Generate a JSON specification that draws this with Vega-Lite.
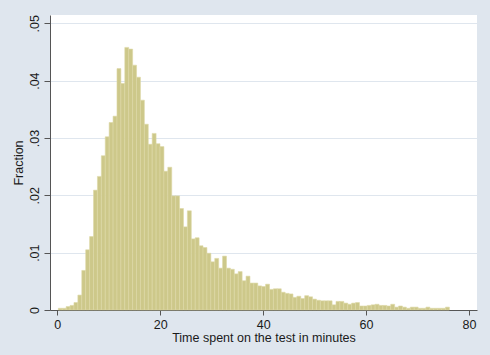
{
  "$schema": "https://vega.github.io/schema/vega-lite/v6.json",
  "width": 427,
  "height": 295,
  "autosize": {"type": "none"},
  "padding": {"left": 50, "top": 15, "right": 13, "bottom": 45},
  "background": "#dfe6ee",
  "config": {
    "view": {"fill": "white", "stroke": null},
    "font": "Liberation Sans",
    "axis": {
      "labelFont": "Liberation Sans",
      "titleFont": "Liberation Sans",
      "labelFontSize": 12.5,
      "titleFontSize": 12.5,
      "titleFontWeight": "normal",
      "labelColor": "#1a1a1a",
      "titleColor": "#1a1a1a",
      "domainColor": "#555555",
      "tickColor": "#555555",
      "domainWidth": 1,
      "tickWidth": 1
    }
  },
  "data": {
    "values": [
      {"start": 0.10, "end": 0.86, "fraction": 0.0003},
      {"start": 0.86, "end": 1.62, "fraction": 0.0003},
      {"start": 1.62, "end": 2.38, "fraction": 0.0006},
      {"start": 2.38, "end": 3.14, "fraction": 0.0008},
      {"start": 3.14, "end": 3.90, "fraction": 0.0013},
      {"start": 3.90, "end": 4.66, "fraction": 0.0026},
      {"start": 4.66, "end": 5.42, "fraction": 0.0069},
      {"start": 5.42, "end": 6.18, "fraction": 0.0105},
      {"start": 6.18, "end": 6.94, "fraction": 0.0128},
      {"start": 6.94, "end": 7.70, "fraction": 0.0209},
      {"start": 7.70, "end": 8.46, "fraction": 0.0233},
      {"start": 8.46, "end": 9.22, "fraction": 0.0269},
      {"start": 9.22, "end": 9.98, "fraction": 0.0302},
      {"start": 9.98, "end": 10.74, "fraction": 0.0327},
      {"start": 10.74, "end": 11.50, "fraction": 0.0338},
      {"start": 11.50, "end": 12.26, "fraction": 0.0421},
      {"start": 12.26, "end": 13.02, "fraction": 0.0395},
      {"start": 13.02, "end": 13.78, "fraction": 0.0458},
      {"start": 13.78, "end": 14.54, "fraction": 0.0455},
      {"start": 14.54, "end": 15.30, "fraction": 0.0427},
      {"start": 15.30, "end": 16.06, "fraction": 0.0406},
      {"start": 16.06, "end": 16.82, "fraction": 0.0366},
      {"start": 16.82, "end": 17.58, "fraction": 0.0324},
      {"start": 17.58, "end": 18.34, "fraction": 0.0289},
      {"start": 18.34, "end": 19.10, "fraction": 0.0308},
      {"start": 19.10, "end": 19.86, "fraction": 0.0290},
      {"start": 19.86, "end": 20.62, "fraction": 0.0285},
      {"start": 20.62, "end": 21.38, "fraction": 0.0242},
      {"start": 21.38, "end": 22.14, "fraction": 0.0249},
      {"start": 22.14, "end": 22.90, "fraction": 0.0199},
      {"start": 22.90, "end": 23.66, "fraction": 0.0199},
      {"start": 23.66, "end": 24.42, "fraction": 0.0177},
      {"start": 24.42, "end": 25.18, "fraction": 0.0145},
      {"start": 25.18, "end": 25.94, "fraction": 0.0173},
      {"start": 25.94, "end": 26.70, "fraction": 0.0124},
      {"start": 26.70, "end": 27.46, "fraction": 0.0126},
      {"start": 27.46, "end": 28.22, "fraction": 0.0112},
      {"start": 28.22, "end": 28.98, "fraction": 0.0109},
      {"start": 28.98, "end": 29.74, "fraction": 0.0099},
      {"start": 29.74, "end": 30.50, "fraction": 0.0084},
      {"start": 30.50, "end": 31.26, "fraction": 0.0090},
      {"start": 31.26, "end": 32.02, "fraction": 0.0073},
      {"start": 32.02, "end": 32.78, "fraction": 0.0094},
      {"start": 32.78, "end": 33.54, "fraction": 0.0073},
      {"start": 33.54, "end": 34.30, "fraction": 0.0071},
      {"start": 34.30, "end": 35.06, "fraction": 0.0063},
      {"start": 35.06, "end": 35.82, "fraction": 0.0067},
      {"start": 35.82, "end": 36.58, "fraction": 0.0051},
      {"start": 36.58, "end": 37.34, "fraction": 0.0059},
      {"start": 37.34, "end": 38.10, "fraction": 0.0047},
      {"start": 38.10, "end": 38.86, "fraction": 0.0047},
      {"start": 38.86, "end": 39.62, "fraction": 0.0042},
      {"start": 39.62, "end": 40.38, "fraction": 0.0041},
      {"start": 40.38, "end": 41.14, "fraction": 0.0045},
      {"start": 41.14, "end": 41.90, "fraction": 0.0036},
      {"start": 41.90, "end": 42.66, "fraction": 0.0037},
      {"start": 42.66, "end": 43.42, "fraction": 0.0037},
      {"start": 43.42, "end": 44.18, "fraction": 0.0031},
      {"start": 44.18, "end": 44.94, "fraction": 0.0029},
      {"start": 44.94, "end": 45.70, "fraction": 0.0028},
      {"start": 45.70, "end": 46.46, "fraction": 0.0022},
      {"start": 46.46, "end": 47.22, "fraction": 0.0024},
      {"start": 47.22, "end": 47.98, "fraction": 0.0020},
      {"start": 47.98, "end": 48.74, "fraction": 0.0025},
      {"start": 48.74, "end": 49.50, "fraction": 0.0023},
      {"start": 49.50, "end": 50.26, "fraction": 0.0019},
      {"start": 50.26, "end": 51.02, "fraction": 0.0017},
      {"start": 51.02, "end": 51.78, "fraction": 0.0016},
      {"start": 51.78, "end": 52.54, "fraction": 0.0016},
      {"start": 52.54, "end": 53.30, "fraction": 0.0016},
      {"start": 53.30, "end": 54.06, "fraction": 0.0009},
      {"start": 54.06, "end": 54.82, "fraction": 0.0015},
      {"start": 54.82, "end": 55.58, "fraction": 0.0015},
      {"start": 55.58, "end": 56.34, "fraction": 0.0012},
      {"start": 56.34, "end": 57.10, "fraction": 0.0010},
      {"start": 57.10, "end": 57.86, "fraction": 0.0012},
      {"start": 57.86, "end": 58.62, "fraction": 0.0013},
      {"start": 58.62, "end": 59.38, "fraction": 0.0007},
      {"start": 59.38, "end": 60.14, "fraction": 0.0007},
      {"start": 60.14, "end": 60.90, "fraction": 0.0008},
      {"start": 60.90, "end": 61.66, "fraction": 0.0009},
      {"start": 61.66, "end": 62.42, "fraction": 0.0010},
      {"start": 62.42, "end": 63.18, "fraction": 0.0008},
      {"start": 63.18, "end": 63.94, "fraction": 0.0008},
      {"start": 63.94, "end": 64.70, "fraction": 0.0007},
      {"start": 64.70, "end": 65.46, "fraction": 0.0010},
      {"start": 65.46, "end": 66.22, "fraction": 0.0005},
      {"start": 66.22, "end": 66.98, "fraction": 0.0007},
      {"start": 66.98, "end": 67.74, "fraction": 0.0005},
      {"start": 67.74, "end": 68.50, "fraction": 0.0003},
      {"start": 68.50, "end": 69.26, "fraction": 0.0005},
      {"start": 69.26, "end": 70.02, "fraction": 0.0005},
      {"start": 70.02, "end": 70.78, "fraction": 0.0003},
      {"start": 70.78, "end": 71.54, "fraction": 0.0003},
      {"start": 71.54, "end": 72.30, "fraction": 0.0005},
      {"start": 72.30, "end": 73.06, "fraction": 0.0003},
      {"start": 73.06, "end": 73.82, "fraction": 0.0003},
      {"start": 73.82, "end": 74.58, "fraction": 0.0003},
      {"start": 74.58, "end": 75.34, "fraction": 0.0003},
      {"start": 75.34, "end": 76.10, "fraction": 0.0005}
    ]
  },
  "mark": {"type": "bar", "binSpacing": 0, "fill": "#cdc88a", "stroke": "#ddd9a6", "strokeWidth": 0.6},
  "encoding": {
    "x": {
      "field": "start",
      "type": "quantitative",
      "bin": {"binned": true},
      "scale": {"domain": [-1.42, 81.56], "nice": false, "zero": false},
      "axis": {
        "values": [0, 20, 40, 60, 80],
        "format": "d",
        "grid": false,
        "tickSize": 5,
        "labelPadding": 3,
        "labelFlush": false,
        "title": "Time spent on the test in minutes",
        "titlePadding": 1
      }
    },
    "x2": {"field": "end"},
    "y": {
      "field": "fraction",
      "type": "quantitative",
      "scale": {"domain": [0, 0.05145], "nice": false},
      "axis": {
        "values": [0, 0.01, 0.02, 0.03, 0.04, 0.05],
        "labelExpr": "datum.value == 0 ? '0' : replace(format(datum.value, '.2f'), '0.', '.')",
        "labelAngle": -90,
        "labelAlign": "center",
        "labelBaseline": "bottom",
        "labelPadding": 3,
        "labelFlush": false,
        "tickSize": 6,
        "grid": true,
        "gridColor": "#dfe6ee",
        "gridWidth": 1,
        "title": "Fraction",
        "titlePadding": 3
      }
    }
  }
}
